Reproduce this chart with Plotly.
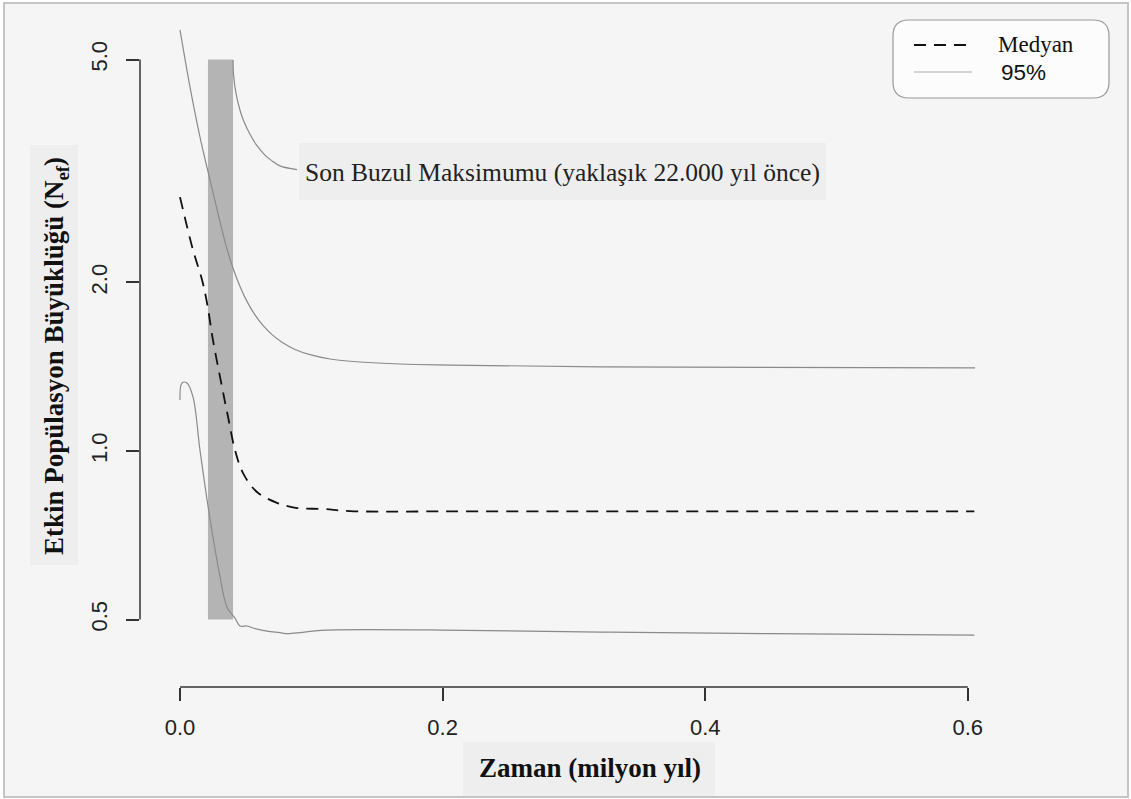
import plotly.graph_objects as go

# ---------------- data ----------------
median_x = [0.0, 0.0099, 0.0168, 0.0206, 0.0251, 0.032, 0.0366, 0.0419, 0.048, 0.0586,
            0.0739, 0.0891, 0.1089, 0.1295, 0.2, 0.3, 0.4, 0.5, 0.605]
median_y = [2.84, 2.285, 2.02, 1.838, 1.578, 1.301, 1.15, 1.004, 0.913, 0.845,
            0.808, 0.791, 0.788, 0.781, 0.780, 0.780, 0.780, 0.780, 0.780]

upper_x = [0.0, 0.0076, 0.0152, 0.0228, 0.0305, 0.0358, 0.0404, 0.0457, 0.0510, 0.0571,
           0.0632, 0.0701, 0.0777, 0.0876, 0.0990, 0.1142, 0.1371, 0.1676, 0.2056,
           0.3199, 0.6055]
upper_y = [5.65, 4.47, 3.64, 3.05, 2.564, 2.294, 2.120, 1.967, 1.850, 1.750,
           1.676, 1.614, 1.564, 1.518, 1.486, 1.460, 1.442, 1.430, 1.424,
           1.413, 1.407]

lower_x = [0.0, 0.0015, 0.0053, 0.0099, 0.0152, 0.0206, 0.0251, 0.0305, 0.0358, 0.0419,
           0.0457, 0.0510, 0.0556, 0.0663, 0.0762, 0.0815, 0.0914, 0.1013, 0.1119,
           0.2, 0.32, 0.45, 0.605]
lower_y = [1.233, 1.323, 1.323, 1.249, 1.004, 0.818, 0.702, 0.596, 0.526, 0.503,
           0.487, 0.487, 0.483, 0.477, 0.474, 0.472, 0.474, 0.477, 0.479,
           0.479, 0.475, 0.472, 0.469]

# Last Glacial Maximum band
lgm_x = [0.0213, 0.0404]
lgm_y = [0.5, 5.0]

# leader curve from band to label
leader_x = [0.0404, 0.0408, 0.0426, 0.0457, 0.0486, 0.0535, 0.0582, 0.0645, 0.0698, 0.0761, 0.0891]
leader_y = [4.99, 4.69, 4.36, 4.06, 3.88, 3.67, 3.52, 3.38, 3.30, 3.23, 3.18]

x_ticks = [0.0, 0.2, 0.4, 0.6]
x_ticktext = ["0.0", "0.2", "0.4", "0.6"]
y_ticks = [0.5, 1.0, 2.0, 5.0]
y_ticktext = ["0.5", "1.0", "2.0", "5.0"]

# ---------------- layout geometry ----------------
W, H = 1131, 799
L, R, T, B = 140, 1010, 25, 687
PW, PH = R - L, B - T


def px(x):
    return (x - L) / PW


def py(y):
    return (B - y) / PH


SERIF = "Liberation Serif"
SANS = "Liberation Sans"
BG = "#f5f5f5"
BOX = "#eeeeee"
GRAY = "#8a8a8a"

fig = go.Figure()

fig.add_trace(go.Scatter(x=upper_x, y=upper_y, mode="lines", line=dict(color=GRAY, width=1.2),
                         line_shape="spline", showlegend=False, cliponaxis=False))
fig.add_trace(go.Scatter(x=lower_x, y=lower_y, mode="lines", line=dict(color=GRAY, width=1.2),
                         line_shape="spline", showlegend=False, cliponaxis=False))
fig.add_trace(go.Scatter(x=median_x, y=median_y, mode="lines",
                         line=dict(color="#111111", width=1.8, dash="12px,8px"),
                         line_shape="spline", showlegend=False, cliponaxis=False))
fig.add_trace(go.Scatter(x=leader_x, y=leader_y, mode="lines", line=dict(color=GRAY, width=1.2),
                         line_shape="spline", showlegend=False, cliponaxis=False))

shapes = []
# outer panel with border
shapes.append(dict(type="rect", xref="paper", yref="paper", x0=px(4), x1=px(1128), y0=py(797), y1=py(3),
                   fillcolor=BG, line=dict(color="#c4c4c4", width=2), layer="below"))
# LGM band
shapes.append(dict(type="rect", xref="x", yref="y", x0=lgm_x[0], x1=lgm_x[1], y0=lgm_y[0], y1=lgm_y[1],
                   fillcolor="#b4b4b4", line=dict(width=0), layer="below"))
# label boxes
shapes.append(dict(type="rect", xref="paper", yref="paper", x0=px(299), x1=px(826), y0=py(200), y1=py(143),
                   fillcolor=BOX, line=dict(width=0), layer="below"))
shapes.append(dict(type="rect", xref="paper", yref="paper", x0=px(30), x1=px(78), y0=py(565), y1=py(145),
                   fillcolor=BOX, line=dict(width=0), layer="below"))
shapes.append(dict(type="rect", xref="paper", yref="paper", x0=px(463), x1=px(715), y0=py(796), y1=py(742),
                   fillcolor=BOX, line=dict(width=0), layer="below"))
# R-style axis spines (from first to last tick)
shapes.append(dict(type="line", xref="paper", yref="y", x0=0, x1=0, y0=y_ticks[0], y1=y_ticks[-1],
                   line=dict(color="#333333", width=1.5)))
shapes.append(dict(type="line", xref="x", yref="paper", x0=x_ticks[0], x1=x_ticks[-1], y0=0, y1=0,
                   line=dict(color="#333333", width=1.5)))

# rounded legend box
lx0, lx1, ly0, ly1 = px(893), px(1109), py(98), py(20)
rx, ry = 16 / PW, 16 / PH
path = (f"M {lx0 + rx},{ly1} L {lx1 - rx},{ly1} Q {lx1},{ly1} {lx1},{ly1 - ry} "
        f"L {lx1},{ly0 + ry} Q {lx1},{ly0} {lx1 - rx},{ly0} L {lx0 + rx},{ly0} "
        f"Q {lx0},{ly0} {lx0},{ly0 + ry} L {lx0},{ly1 - ry} Q {lx0},{ly1} {lx0 + rx},{ly1} Z")
shapes.append(dict(type="path", xref="paper", yref="paper", path=path, fillcolor="#fcfcfc",
                   line=dict(color="#9a9a9a", width=1.2)))
shapes.append(dict(type="line", xref="paper", yref="paper", x0=px(914), x1=px(972), y0=py(45), y1=py(45),
                   line=dict(color="#111111", width=2, dash="12px,8px")))
shapes.append(dict(type="line", xref="paper", yref="paper", x0=px(914), x1=px(972), y0=py(72), y1=py(72),
                   line=dict(color="#aaaaaa", width=1.2)))

annotations = [
    dict(text="Son Buzul Maksimumu (yaklaşık 22.000 yıl önce)", xref="paper", yref="paper",
         x=px(562), y=py(172), showarrow=False, font=dict(family=SERIF, size=25.5, color="#222222"),
         xanchor="center", yanchor="middle"),
    dict(text="<b>Etkin Popülasyon Büyüklüğü (N<sub>ef</sub>)</b>", xref="paper", yref="paper",
         x=px(56), y=py(356), showarrow=False, textangle=-90,
         font=dict(family=SERIF, size=27, color="#111111"), xanchor="center", yanchor="middle"),
    dict(text="<b>Zaman (milyon yıl)</b>", xref="paper", yref="paper",
         x=px(590), y=py(768), showarrow=False,
         font=dict(family=SERIF, size=27, color="#111111"), xanchor="center", yanchor="middle"),
    dict(text="Medyan", xref="paper", yref="paper", x=px(996), y=py(45), showarrow=False,
         font=dict(family=SERIF, size=23, color="#111111"), xanchor="left", yanchor="middle"),
    dict(text="95%", xref="paper", yref="paper", x=px(999), y=py(73), showarrow=False,
         font=dict(family=SANS, size=22.5, color="#111111"), xanchor="left", yanchor="middle"),
]

fig.update_layout(
    width=W, height=H,
    margin=dict(l=L, r=W - R, t=T, b=H - B, pad=0),
    paper_bgcolor="white", plot_bgcolor="rgba(0,0,0,0)",
    showlegend=False,
    shapes=shapes, annotations=annotations,
    xaxis=dict(range=[(L - 180) / 1313, (R - 180) / 1313], tickvals=x_ticks, ticktext=x_ticktext,
               ticks="outside", ticklen=13, tickwidth=1.5, tickcolor="#333333",
               showline=False, showgrid=False, zeroline=False,
               tickfont=dict(family=SANS, size=22, color="#222222"), ticklabelstandoff=8),
    yaxis=dict(type="log", range=[-0.4214, 0.7607], tickvals=y_ticks, ticktext=y_ticktext,
               ticks="outside", ticklen=13, tickwidth=1.5, tickcolor="#333333", tickangle=-90,
               showline=False, showgrid=False, zeroline=False,
               tickfont=dict(family=SANS, size=22, color="#222222"), ticklabelstandoff=10),
)

fig.write_html("out.html", config={"displayModeBar": False},
               post_script="document.body.style.margin='0';document.body.style.overflow='hidden';")
